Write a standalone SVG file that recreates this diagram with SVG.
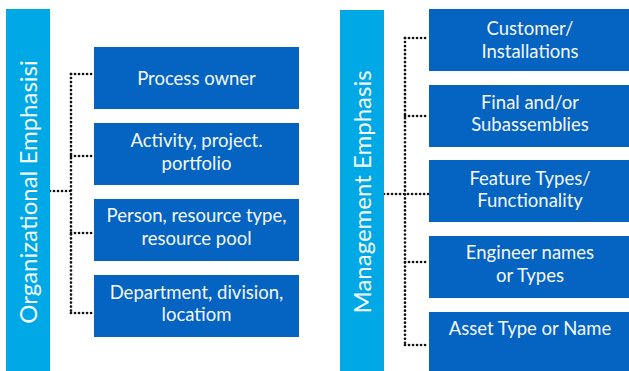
<svg xmlns="http://www.w3.org/2000/svg" width="629" height="371" viewBox="0 0 629 371">
<style>
.bar{fill:#00A9E6}
.box{fill:#0563C1}
.t{font-family:Lato,"Noto Sans","Liberation Sans",sans-serif;font-size:18.5px;fill:#F4F7FC;text-anchor:middle}
.vt{font-family:Lato,"Noto Sans","Liberation Sans",sans-serif;font-size:24px;fill:#F4F7FC;text-anchor:middle}
.dot{fill:none;stroke:#111111;stroke-width:2.7;stroke-linecap:round;stroke-dasharray:0.01 4}
</style>
<rect width="629" height="371" fill="#ffffff"/>
<g id="connectors">
<path class="dot" d="M71 74 V313"/>
<path class="dot" d="M50 191 H71"/>
<path class="dot" d="M71 74 H94 M71 156 H94 M71 233 H94 M71 313 H94"/>
<path class="dot" d="M405 38 V345"/>
<path class="dot" d="M384 194 H429"/>
<path class="dot" d="M405 38 H429 M405 116 H429 M405 262 H429 M405 345 H429"/>
</g>
<g id="org-emphasis">
<rect class="bar" x="6" y="9" width="44" height="362"/>
<text class="vt" transform="translate(37,192) rotate(-90)" x="0" y="0">Organizational Emphasisi</text>
</g>
<g id="mgmt-emphasis">
<rect class="bar" x="340" y="10" width="44" height="361"/>
<text class="vt" transform="translate(371,192) rotate(-90)" x="0" y="0">Management Emphasis</text>
</g>
<g id="process-owner">
<rect class="box" x="94" y="47" width="205" height="62"/>
<text class="t" x="196.5" y="85">Process owner</text>
</g>
<g id="activity">
<rect class="box" x="94" y="123" width="205" height="62"/>
<text class="t" x="196.5" y="147">Activity, project.</text>
<text class="t" x="196.5" y="170">portfolio</text>
</g>
<g id="person">
<rect class="box" x="94" y="199" width="205" height="62"/>
<text class="t" x="196.5" y="222">Person, resource type,</text>
<text class="t" x="196.5" y="244.5">resource pool</text>
</g>
<g id="department">
<rect class="box" x="94" y="275" width="205" height="62"/>
<text class="t" x="196.5" y="298.5">Department, division,</text>
<text class="t" x="196.5" y="321">locatiom</text>
</g>
<g id="customer">
<rect class="box" x="429" y="9" width="200" height="62"/>
<text class="t" x="530" y="34.5">Customer/</text>
<text class="t" x="530" y="58">Installations</text>
</g>
<g id="final">
<rect class="box" x="429" y="85" width="200" height="62"/>
<text class="t" x="530" y="109">Final and/or</text>
<text class="t" x="530" y="131">Subassemblies</text>
</g>
<g id="feature">
<rect class="box" x="429" y="160" width="200" height="62"/>
<text class="t" x="530" y="184.5">Feature Types/</text>
<text class="t" x="530" y="206.5">Functionality</text>
</g>
<g id="engineer">
<rect class="box" x="429" y="236" width="200" height="62"/>
<text class="t" x="530" y="258.5">Engineer names</text>
<text class="t" x="530" y="281.5">or Types</text>
</g>
<g id="asset">
<rect class="box" x="429" y="312" width="200" height="59"/>
<text class="t" x="530" y="335">Asset Type or Name</text>
</g>
</svg>
